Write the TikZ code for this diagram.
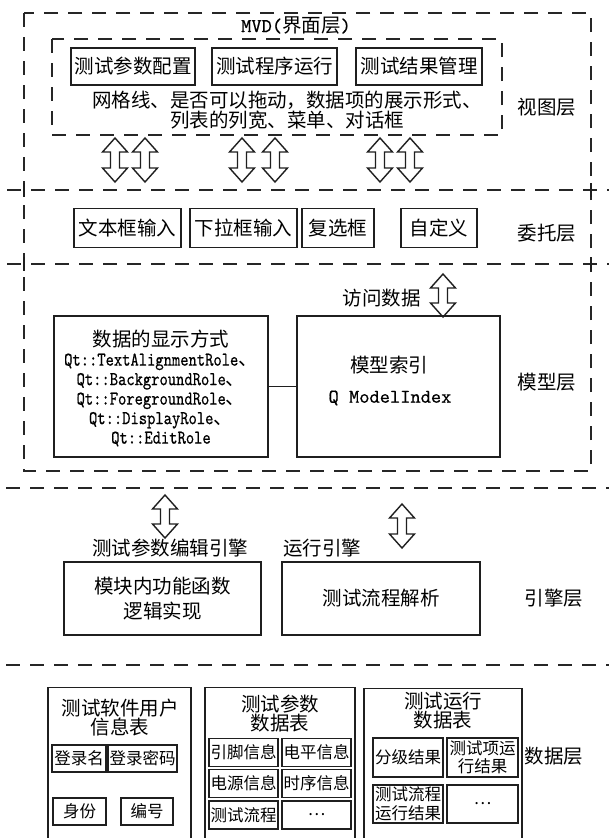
\documentclass[tikz,border=0pt]{standalone}
\usepackage{fontspec}
\setmainfont{Noto Sans CJK SC}
% monospace faces for the Latin identifiers
\newfontfamily\monofont[FakeBold=0.5]{lmmono10-regular.otf}
\newfontfamily\qtfont[FakeBold=0.5,FakeStretch=0.81]{lmmono10-regular.otf}
\usetikzlibrary{calc}

\newcommand\qtline[1]{{\qtfont #1}}

\tikzset{
  ln/.style={draw=black!88, line width=1.4pt},
  dashline/.style={draw=black!85, line width=1.6pt, dash pattern=on 14pt off 10pt},
  framebox/.style={ln, inner sep=0pt, align=center},
  lbl/.style={inner sep=0pt, align=center},
  txtbig/.style={font=\fontsize{19.5}{19.5}\selectfont},
  txtsmall/.style={font=\fontsize{16.5}{18.5}\selectfont},
  blockarrow/.style={ln, fill=white, line join=miter},
  pics/dblarrow/.style={code={
    \draw[blockarrow] (0,-#1) -- (12.5,{-#1+14}) -- (4.5,{-#1+14}) -- (4.5,{#1-14})
      -- (12.5,{#1-14}) -- (0,#1) -- (-12.5,{#1-14}) -- (-4.5,{#1-14})
      -- (-4.5,{-#1+14}) -- (-12.5,{-#1+14}) -- cycle;}},
}

\begin{document}
\begin{tikzpicture}[x=1pt, y=-1pt]
\useasboundingbox (0,0) rectangle (609,838);
\clip (0,0) rectangle (609,838);
\fill[white] (0,0) rectangle (609,838);

% ---------- MVD frame and layer separators ----------
\draw[dashline] (24,13) rectangle (591,471);
\draw[dashline] (7,190) -- (609,190);
\draw[dashline] (7,264) -- (609,264);
\draw[dashline] (6,488) -- (609,488);
\draw[dashline] (6,665) -- (609,665);
% short solid ticks where the frame crosses the separators
\foreach \yy in {190,264} {
  \draw[ln, line width=1.6pt] (24,\yy-7) -- (24,\yy+7);
  \draw[ln, line width=1.6pt] (591,\yy-7) -- (591,\yy+7);
}
\node[lbl, txtbig] (mvd) at (296,25) {{\monofont MVD(}界面层{\monofont )}};

% ---------- view layer ----------
\draw[dashline] (52,39) rectangle (502,135);
\node[framebox, txtbig, minimum width=124pt, minimum height=37pt] (cfg) at (133,66.5) {测试参数配置};
\node[framebox, txtbig, minimum width=125pt, minimum height=37pt] (run) at (274.5,66.5) {测试程序运行};
\node[framebox, txtbig, minimum width=126pt, minimum height=37pt] (res) at (419,66.5) {测试结果管理};
\node[lbl, font=\fontsize{19.5}{20}\selectfont] (viewtxt) at (287,110)
  {网格线、是否可以拖动，数据项的展示形式、\\列表的列宽、菜单、对话框};
\node[lbl, txtbig] (viewlayer) at (547,107) {视图层};

\pic at (115,160) {dblarrow=22};
\pic at (145,160) {dblarrow=22};
\pic at (242,160) {dblarrow=22};
\pic at (275,160) {dblarrow=22};
\pic at (380,160) {dblarrow=22};
\pic at (410,160) {dblarrow=22};

% ---------- delegate layer ----------
\node[framebox, txtbig, minimum width=107pt, minimum height=39pt] (txtin) at (127.5,228) {文本框输入};
\node[framebox, txtbig, minimum width=107pt, minimum height=39pt] (dropin) at (243.5,228) {下拉框输入};
\node[framebox, txtbig, minimum width=72pt, minimum height=39pt] (chk) at (338,228) {复选框};
\node[framebox, txtbig, minimum width=76pt, minimum height=39pt] (custom) at (439,228) {自定义};
\node[lbl, txtbig] (delegatelayer) at (547,233) {委托层};

% ---------- model layer ----------
\node[lbl, txtbig] (access) at (381.5,298) {访问数据};
\pic at (443,295.5) {dblarrow=21.5};
\node[framebox, minimum width=214pt, minimum height=141pt] (roles) at (161,386.5) {};
\node[lbl, txtbig] (roletxt) at (161,388)
  {数据的显示方式\\
   \qtline{Qt::TextAlignmentRole}、\\
   \qtline{Qt::BackgroundRole}、\\
   \qtline{Qt::ForegroundRole}、\\
   \qtline{Qt::DisplayRole}、\\
   \qtline{Qt::EditRole}};
\node[framebox, minimum width=203pt, minimum height=141pt] (idx) at (398.5,386.5) {};
\node[lbl, txtbig] (idxname) at (389,365) {模型索引};
\node[lbl, txtbig] (idxq) at (390,398) {\monofont Q ModelIndex};
\draw[ln] (roles.east) -- (idx.west);
\node[lbl, txtbig] (modellayer) at (547,382) {模型层};

% ---------- engine layer ----------
\pic at (165,516.5) {dblarrow=21.5};
\pic at (402,526) {dblarrow=22};
\node[lbl, txtbig] (editeng) at (170,548) {测试参数编辑引擎};
\node[lbl, txtbig] (runeng) at (322,548) {运行引擎};
\node[framebox, font=\fontsize{19.5}{25}\selectfont, minimum width=197pt, minimum height=73pt] (func) at (162.5,598.5)
  {模块内功能函数\\逻辑实现};
\node[framebox, txtbig, minimum width=198pt, minimum height=73pt] (parse) at (381,598.5) {测试流程解析};
\node[lbl, txtbig] (enginelayer) at (554,598) {引擎层};

% ---------- data layer ----------
\node[framebox, minimum width=143pt, minimum height=220pt, anchor=north] (usertab) at (119.5,687) {};
\node[framebox, minimum width=150pt, minimum height=220pt, anchor=north] (paramtab) at (280,687) {};
\node[framebox, minimum width=158pt, minimum height=220pt, anchor=north] (runtab) at (443,688) {};

\node[lbl, txtbig] (usertitle) at (120,717.5) {测试软件用户\\信息表};
\node[lbl, font=\fontsize{19.5}{18}\selectfont] (paramtitle) at (280,713.5) {测试参数\\数据表};
\node[lbl, font=\fontsize{19.5}{18}\selectfont] (runtitle) at (443,711) {测试运行\\数据表};

\node[framebox, txtsmall, minimum width=54pt, minimum height=27pt] (login) at (79,758.5) {登录名};
\node[framebox, txtsmall, minimum width=69pt, minimum height=27pt] (pwd) at (142.5,758.5) {登录密码};
\node[framebox, txtsmall, minimum width=53pt, minimum height=27pt] (ident) at (79.5,811.5) {身份};
\node[framebox, txtsmall, minimum width=52pt, minimum height=27pt] (uid) at (147,811.5) {编号};

\node[framebox, txtsmall, minimum width=69pt, minimum height=28pt] (pin) at (243.5,752.5) {引脚信息};
\node[framebox, txtsmall, minimum width=69pt, minimum height=28pt] (level) at (316.5,752.5) {电平信息};
\node[framebox, txtsmall, minimum width=69pt, minimum height=28pt] (power) at (243.5,783.5) {电源信息};
\node[framebox, txtsmall, minimum width=69pt, minimum height=28pt] (timing) at (316.5,783.5) {时序信息};
\node[framebox, txtsmall, minimum width=69pt, minimum height=28pt] (flow) at (243.5,815) {测试流程};
\node[framebox, txtsmall, minimum width=69pt, minimum height=28pt] (pmore) at (316.5,815) {…};

\node[framebox, txtsmall, minimum width=70pt, minimum height=39pt] (grade) at (408,757.5) {分级结果};
\node[framebox, txtsmall, minimum width=71pt, minimum height=39pt] (itemres) at (482.5,757.5) {测试项运\\行结果};
\node[framebox, txtsmall, minimum width=70pt, minimum height=38pt] (flowres) at (408,804) {测试流程\\运行结果};
\node[framebox, txtsmall, minimum width=71pt, minimum height=38pt] (rmore) at (482.5,804) {…};

\node[lbl, txtbig] (datalayer) at (554,756) {数据层};
\end{tikzpicture}
\end{document}
